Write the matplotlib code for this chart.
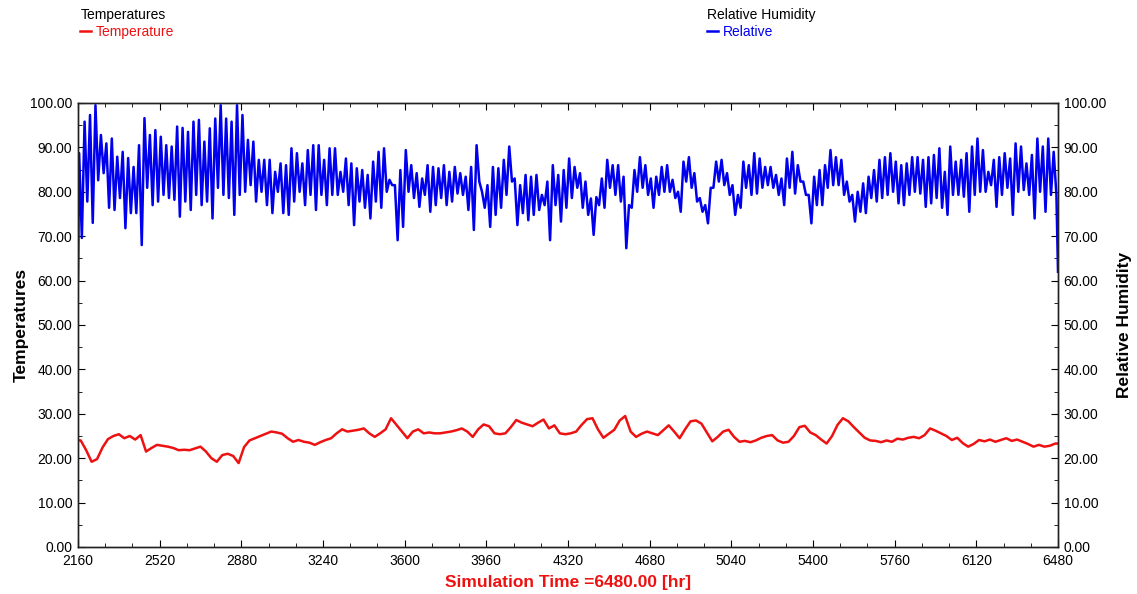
import numpy as np
import matplotlib.pyplot as plt
from matplotlib.ticker import MultipleLocator, FormatStrFormatter

plt.rcParams['font.family'] = ['Liberation Sans', 'DejaVu Sans']

start_hr = 2160
end_hr = 6480

# daily relative humidity extremes [%]
rh_max = [88.7, 95.8, 97.3, 99.5, 92.8, 90.9, 92.0, 87.9, 89.0, 87.6, 85.6, 90.5, 96.6, 92.8, 93.9, 92.4, 90.5, 90.2, 94.7, 94.4, 93.5, 95.8, 96.2,
          91.3, 94.3, 96.5, 99.5, 96.5, 95.8, 99.5, 97.3, 91.7, 91.3, 87.2, 87.2, 87.2, 84.5, 86.4, 86.0, 89.8, 88.7, 86.4, 89.4, 90.5, 90.5,
          87.2, 89.8, 89.8, 84.5, 87.5, 86.4, 85.3, 84.9, 83.8, 86.8, 89.0, 89.8, 82.7, 81.5, 84.9, 89.4, 86.0, 84.2, 83.0, 86.0, 85.6, 85.3, 86.0,
          84.5, 85.6, 84.2, 83.4, 85.6, 90.5, 80.0, 81.5, 85.6, 85.3, 87.2, 90.2, 83.0, 81.5, 83.8, 83.4, 83.8, 79.3, 82.3, 86.0, 83.8, 84.9, 87.5,
          85.6, 84.2, 82.3, 78.5, 78.8, 83.0, 87.2, 86.0, 86.0, 83.4, 77.0, 84.9, 87.8, 86.0, 83.0, 83.4, 85.6, 86.0, 82.7, 80.0, 86.8, 87.8, 84.2,
          78.6, 77.0, 80.9, 86.8, 87.2, 84.2, 81.5, 79.3, 86.8, 86.0, 88.7, 87.5, 85.6, 85.6, 83.8, 83.0, 87.5, 89.0, 86.0, 82.3, 79.3, 83.4, 84.9,
          86.0, 89.4, 87.8, 87.2, 82.3, 79.3, 80.0, 81.9, 83.4, 84.9, 87.2, 87.8, 88.7, 86.8, 86.0, 86.4, 87.8, 87.8, 87.2, 87.8, 88.3, 89.8, 84.5,
          90.2, 86.8, 87.2, 88.7, 90.2, 92.0, 89.4, 84.5, 87.2, 87.8, 88.7, 87.5, 90.9, 90.2, 86.4, 88.3, 92.0, 90.2, 92.0, 89.0]
rh_min = [69.6, 77.8, 73.0, 82.6, 84.2, 76.4, 75.9, 78.6, 71.8, 75.2, 75.2, 68.0, 80.9, 77.0, 77.8, 79.3, 78.6, 78.2, 74.4, 77.8, 75.9, 79.3, 77.0,
          77.8, 74.0, 80.9, 79.3, 78.6, 74.8, 79.3, 80.0, 81.5, 77.8, 80.0, 77.0, 75.2, 80.0, 75.2, 74.8, 77.8, 80.0, 77.0, 79.3, 75.9, 79.3,
          77.0, 79.3, 79.3, 80.0, 77.0, 72.5, 77.8, 76.4, 74.0, 77.8, 76.4, 80.0, 81.5, 69.1, 72.1, 80.0, 78.6, 76.6, 79.3, 75.5, 77.0, 78.6, 77.0,
          77.8, 79.6, 79.3, 75.9, 71.4, 82.3, 76.4, 72.1, 74.8, 76.4, 79.3, 82.3, 72.5, 75.2, 73.6, 74.8, 75.9, 77.0, 69.1, 77.0, 73.3, 76.4, 78.6,
          80.9, 76.4, 74.8, 70.3, 77.0, 76.4, 80.9, 79.3, 77.8, 67.3, 76.4, 80.0, 80.9, 79.3, 76.4, 79.3, 80.0, 80.0, 78.6, 75.5, 82.3, 80.9, 77.8,
          75.5, 72.9, 80.9, 82.3, 81.5, 79.3, 74.8, 76.4, 80.9, 79.3, 79.6, 80.9, 81.5, 80.9, 79.3, 77.0, 80.9, 79.6, 82.3, 79.3, 72.9, 77.0, 77.0,
          80.9, 81.5, 81.5, 79.3, 77.8, 73.3, 75.5, 75.2, 78.6, 77.8, 78.6, 79.3, 80.0, 77.4, 77.0, 79.3, 80.0, 79.6, 76.6, 77.4, 78.6, 76.4, 74.8,
          79.3, 79.3, 78.9, 75.5, 79.3, 80.0, 80.0, 81.5, 76.6, 79.3, 80.9, 74.8, 80.0, 80.4, 79.3, 74.0, 80.0, 75.5, 79.3, 79.3]
rh_first = 60.0
rh_last = 62.0

# daily mean temperature [C]
temp = [24.0, 21.8, 19.2, 19.8, 22.4, 24.3, 25.0, 25.4, 24.5, 25.0,
        24.2, 25.2, 21.5, 22.3, 23.0, 22.8, 22.6, 22.3, 21.8, 21.9,
        21.8, 22.2, 22.6, 21.5, 20.0, 19.2, 20.7, 21.0, 20.5, 18.9,
        22.5, 24.0, 24.5, 25.0, 25.5, 26.0, 25.8, 25.5, 24.5, 23.7,
        24.1, 23.7, 23.5, 23.0, 23.6, 24.1, 24.5, 25.6, 26.5, 26.0,
        26.2, 26.4, 26.7, 25.6, 24.8, 25.6, 26.5, 29.0, 27.5, 26.0,
        24.5, 26.0, 26.5, 25.6, 25.8, 25.6, 25.6, 25.8, 26.0, 26.3,
        26.7, 26.0, 24.8, 26.5, 27.6, 27.2, 25.6, 25.4, 25.6, 27.0,
        28.6, 28.0, 27.6, 27.2, 28.0, 28.7, 26.7, 27.4, 25.6, 25.4,
        25.6, 26.0, 27.5, 28.8, 29.0, 26.5, 24.6, 25.5, 26.4, 28.5,
        29.5, 26.0, 24.8, 25.5, 26.0, 25.6, 25.2, 26.3, 27.4, 26.0,
        24.5, 26.5, 28.3, 28.5, 27.8, 25.8, 23.8, 24.8, 26.0, 26.4,
        24.8, 23.7, 23.9, 23.6, 24.0, 24.6, 25.0, 25.2, 24.0, 23.5,
        23.7, 25.0, 27.0, 27.3, 25.8, 25.2, 24.2, 23.3, 25.0, 27.5,
        29.0, 28.3, 27.0, 25.8, 24.6, 24.0, 23.9, 23.6, 24.0, 23.7,
        24.4, 24.2, 24.6, 24.8, 24.5, 25.2, 26.7, 26.2, 25.6, 25.0,
        24.1, 24.6, 23.4, 22.6, 23.2, 24.1, 23.8, 24.2, 23.7, 24.1,
        24.5, 23.9, 24.2, 23.7, 23.2, 22.6, 23.0, 22.6, 22.8, 23.3]

days = np.arange(len(rh_max))
t_hi = start_hr + 24 * days + 5
t_lo = start_hr + 24 * days + 17
rh_t = np.concatenate([[start_hr], np.column_stack([t_hi, t_lo]).ravel(), [end_hr]])
rh_v = np.concatenate([[rh_first], np.column_stack([rh_max, rh_min]).ravel(), [rh_last]])

temp_t = np.concatenate([[start_hr], start_hr + 24 * days + 12, [end_hr]])
temp_v = np.concatenate([[temp[0]], temp, [temp[-1]]])

red = '#ee1111'
blue = '#0000ee'

fig = plt.figure(figsize=(11.37, 5.94), dpi=100)
ax = fig.add_axes([78 / 1137, 47 / 594, 980 / 1137, 444 / 594])
ax2 = ax.twinx()

l_temp, = ax.plot(temp_t, temp_v, color=red, lw=1.8)
l_rh, = ax2.plot(rh_t, rh_v, color=blue, lw=1.8)

for a in (ax, ax2):
    a.set_ylim(0, 100)
    a.yaxis.set_major_locator(MultipleLocator(10))
    a.yaxis.set_minor_locator(MultipleLocator(5))
    a.yaxis.set_major_formatter(FormatStrFormatter('%.2f'))
    a.tick_params(which='both', direction='in', labelsize=10, pad=4)
    a.tick_params(which='major', length=5)
    a.tick_params(which='minor', length=3)
    for s in a.spines.values():
        s.set_color('#222222')
        s.set_linewidth(1.0)

ax.set_xlim(start_hr, end_hr)
ax.xaxis.set_major_locator(MultipleLocator(360))
ax.xaxis.set_minor_locator(MultipleLocator(120))
ax.tick_params(axis='x', which='both', top=True)
ax.tick_params(axis='x', pad=5)

ax.set_ylabel('Temperatures', fontsize=12.5, fontweight='bold', labelpad=1)
ax2.set_ylabel('Relative Humidity', fontsize=12.5, fontweight='bold', labelpad=8)
ax.set_xlabel('Simulation Time =6480.00 [hr]', fontsize=12.5, fontweight='bold', color=red, labelpad=5)

leg1 = fig.legend(handles=[l_temp], labels=['Temperature'], title='Temperatures',
                  loc='upper left', bbox_to_anchor=(72 / 1137, 1.0), frameon=False,
                  fontsize=10, title_fontsize=10, handlelength=0.8, handletextpad=0.3,
                  alignment='left', borderaxespad=0.2, labelspacing=0.2)
for txt in leg1.get_texts():
    txt.set_color(red)
leg2 = fig.legend(handles=[l_rh], labels=['Relative'], title='Relative Humidity',
                  loc='upper left', bbox_to_anchor=(699 / 1137, 1.0), frameon=False,
                  fontsize=10, title_fontsize=10, handlelength=0.8, handletextpad=0.3,
                  alignment='left', borderaxespad=0.2, labelspacing=0.2)
for txt in leg2.get_texts():
    txt.set_color(blue)

fig.savefig('out.png', dpi=100)
